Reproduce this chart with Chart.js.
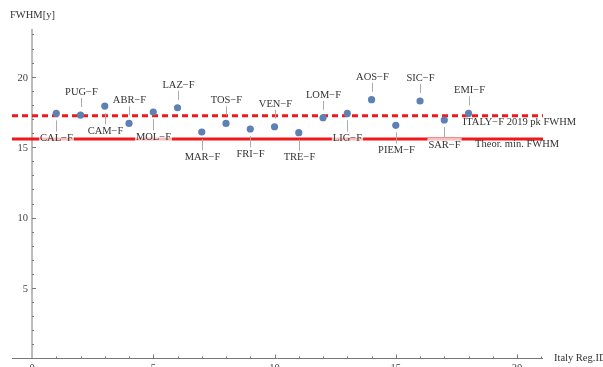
<!DOCTYPE html>
<html>
<head>
<meta charset="utf-8">
<script src="https://cdn.jsdelivr.net/npm/chart.js@4/dist/chart.umd.min.js"></script>
<style>
	html, body { margin: 0; padding: 0; background: #fff; }
	canvas { display: block; }
</style>
</head>
<body>
<canvas id="fwhm" width="603" height="367"></canvas>
<script>
// regions on the x axis (Italy Reg.ID) and the measured FWHM in years
const regions = ["CAL−F", "PUG−F", "CAM−F", "ABR−F", "MOL−F", "LAZ−F", "MAR−F", "TOS−F", "FRI−F",
	"VEN−F", "TRE−F", "LOM−F", "LIG−F", "AOS−F", "PIEM−F", "SIC−F", "SAR−F", "EMI−F"];
const regionIds = [1, 2, 3, 4, 5, 6, 7, 8, 9, 10, 11, 12, 13, 14, 15, 16, 17, 18];
const fwhm = [17.40, 17.28, 17.92, 16.69, 17.49, 17.80, 16.08, 16.69, 16.29,
	16.45, 16.03, 17.09, 17.40, 18.37, 16.55, 18.28, 16.93, 17.40];

const italyPkFwhm = 17.23;
const theorMinFwhm = 15.58;

const xTicks = [0, 5, 10, 15, 20];
const yTicks = [5, 10, 15, 20];

const X_MIN = -0.825, X_MAX = 21.07;
const Y_MIN = 0, Y_MAX = 23.39;

const RED = "#f01818";
const BLUE = "#5e81b5";
const AXIS = "#777";
const FONT = "10.5px 'Liberation Serif', 'DejaVu Serif', serif";

// axes drawn Mathematica-like: crossing at the origin, ticks pointing inward
const axesPlugin = {
	id: "mmaAxes",
	beforeDatasetsDraw(chart) {
		let ctx = chart.ctx;
		let xs = chart.scales.x, ys = chart.scales.y;
		let x0 = xs.getPixelForValue(0), y0 = ys.getPixelForValue(0);
		ctx.save();
		ctx.strokeStyle = AXIS;
		ctx.lineWidth = 1;
		ctx.beginPath();
		ctx.moveTo(xs.left, y0); ctx.lineTo(xs.right, y0);
		ctx.moveTo(x0, ys.top); ctx.lineTo(x0, y0);
		ctx.stroke();

		ctx.beginPath();
		for (let v = 1; v <= Math.floor(X_MAX); v++) {
			let len = v % 5 === 0 ? 4 : 2;
			let px = Math.round(xs.getPixelForValue(v)) + 0.5;
			ctx.moveTo(px, y0); ctx.lineTo(px, y0 - len);
		}
		for (let v = 1; v <= Math.floor(Y_MAX); v++) {
			let len = v % 5 === 0 ? 4 : 2;
			let py = Math.round(ys.getPixelForValue(v)) + 0.5;
			ctx.moveTo(x0, py); ctx.lineTo(x0 + len, py);
		}
		ctx.stroke();

		ctx.fillStyle = "#444";
		ctx.font = FONT;
		ctx.textAlign = "right";
		ctx.textBaseline = "middle";
		for (let v of yTicks) ctx.fillText(String(v), x0 - 4, ys.getPixelForValue(v) + 1);
		ctx.textAlign = "center";
		ctx.textBaseline = "top";
		for (let v of xTicks) ctx.fillText(String(v), xs.getPixelForValue(v), y0 + 4);

		ctx.fillStyle = "#333";
		ctx.textAlign = "left";
		ctx.textBaseline = "middle";
		ctx.fillText("FWHM[y]", 10, 15);
		ctx.fillText("Italy Reg.ID", xs.right + 11, y0);
		ctx.restore();
	},
	afterDatasetsDraw(chart) {
		let ctx = chart.ctx;
		let xs = chart.scales.x, ys = chart.scales.y;
		ctx.save();
		ctx.font = FONT;
		ctx.textAlign = "center";
		ctx.textBaseline = "alphabetic";

		// callouts, alternating below / above the point
		regions.forEach(function(name, i) {
			let px = Math.round(xs.getPixelForValue(regionIds[i])) + 0.5;
			let py = ys.getPixelForValue(fwhm[i]);
			let dir = i % 2 === 0 ? 1 : -1;
			ctx.strokeStyle = "#aaa";
			ctx.lineWidth = 1;
			ctx.beginPath();
			if (dir > 0) { ctx.moveTo(px, py + 7); ctx.lineTo(px, py + 19); }
			else { ctx.moveTo(px, py - 8); ctx.lineTo(px, py - 17); }
			ctx.stroke();

			let cy = py + dir * 24;
			let w = ctx.measureText(name).width;
			ctx.fillStyle = "rgba(255,255,255,0.72)";
			ctx.fillRect(px - w / 2 - 1, cy - 6, w + 2, 12);
			ctx.fillStyle = "#333";
			ctx.fillText(name, px, cy + 3.8);
		});

		ctx.textAlign = "left";
		ctx.fillText("ITALY−F 2019 pk FWHM", xs.getPixelForValue(17.76), ys.getPixelForValue(italyPkFwhm) + 9.5);
		ctx.fillText("Theor. min. FWHM", xs.getPixelForValue(18.27), ys.getPixelForValue(theorMinFwhm) + 8);
		ctx.restore();
	}
};

new Chart(document.getElementById("fwhm"), {
	type: "scatter",
	data: {
		datasets: [{
			label: "FWHM",
			data: regionIds.map((x, i) => ({ x: x, y: fwhm[i] })),
			backgroundColor: BLUE,
			borderColor: BLUE,
			pointRadius: 3.6,
			pointBorderWidth: 0,
			order: 0
		}, {
			label: "ITALY-F 2019 pk FWHM",
			data: [{ x: X_MIN, y: italyPkFwhm }, { x: X_MAX, y: italyPkFwhm }],
			showLine: true,
			borderColor: RED,
			borderWidth: 3,
			borderDash: [6, 4],
			pointRadius: 0,
			order: 1
		}, {
			label: "Theor. min. FWHM",
			data: [{ x: X_MIN, y: theorMinFwhm }, { x: X_MAX, y: theorMinFwhm }],
			showLine: true,
			borderColor: RED,
			borderWidth: 3,
			pointRadius: 0,
			order: 1
		}]
	},
	options: {
		responsive: false,
		devicePixelRatio: 1,
		animation: false,
		layout: {
			padding: { left: 12, right: 60, top: 29, bottom: 8.5 }
		},
		plugins: {
			legend: { display: false },
			tooltip: { enabled: false }
		},
		scales: {
			x: { type: "linear", min: X_MIN, max: X_MAX, display: false },
			y: { type: "linear", min: Y_MIN, max: Y_MAX, display: false }
		}
	},
	plugins: [axesPlugin]
});
</script>
</body>
</html>
